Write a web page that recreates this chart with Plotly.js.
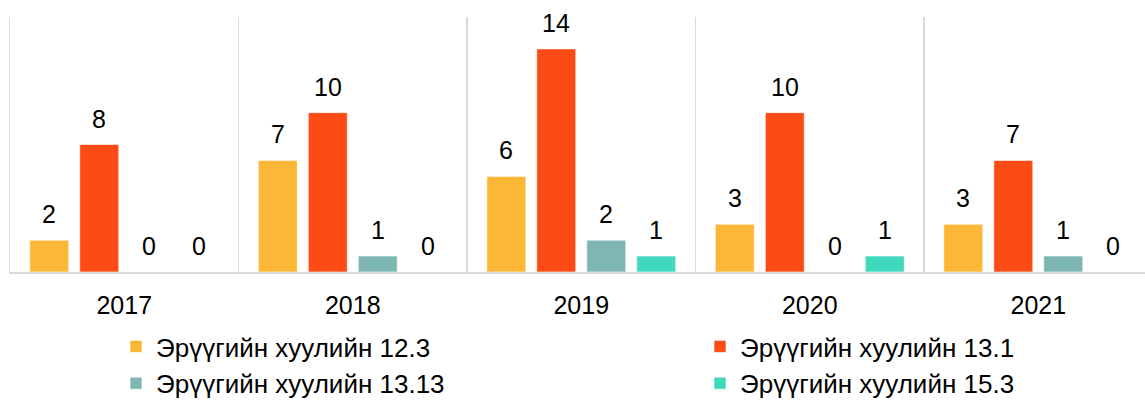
<!DOCTYPE html>
<html>
<head>
<meta charset="utf-8">
<script src="https://cdn.plot.ly/plotly-3.0.1.min.js"></script>
<style>html,body{margin:0;padding:0;background:#fff;}</style>
</head>
<body>
<div id="chart" style="width:1145px;height:401px;"></div>
<script>
const years = ["2017", "2018", "2019", "2020", "2021"];
const seriesNames = ["Эрүүгийн хуулийн 12.3", "Эрүүгийн хуулийн 13.1", "Эрүүгийн хуулийн 13.13", "Эрүүгийн хуулийн 15.3"];
const s123 = [2, 7, 6, 3, 3];
const s131 = [8, 10, 14, 10, 7];
const s1313 = [0, 1, 2, 0, 1];
const s153 = [0, 0, 1, 1, 0];
const colors = ["#FDB736", "#FD4B16", "#7EB6B1", "#40D9BE"];

const allSeries = [s123, s131, s1313, s153];
const legendFor = ["legend", "legend2", "legend", "legend2"];
const FONT = "Liberation Sans, Arial, sans-serif";
const FS = 25;

const traces = allSeries.map((vals, i) => ({
  type: "bar",
  name: seriesNames[i],
  x: years,
  y: vals,
  marker: {color: colors[i], line: {color: "rgba(255,255,255,0.6)", width: 1}},
  legend: legendFor[i],
  legendgroup: "g" + i,
  hoverinfo: "x+y+name"
}));

const annotations = [];
allSeries.forEach((vals, i) => {
  vals.forEach((v, j) => {
    annotations.push({
      x: j, y: v, xref: "x", yref: "y",
      text: String(v), showarrow: false,
      xanchor: "center", yanchor: "bottom",
      xshift: (i - 1.5) * 50, yshift: 10,
      font: {family: FONT, size: FS, color: "#000"}
    });
  });
});

const legendCommon = {
  orientation: "v", xref: "container", yref: "container",
  xanchor: "left", yanchor: "top",
  traceorder: "grouped", tracegroupgap: 0,
  font: {family: FONT, size: 26, color: "#000"},
  bgcolor: "rgba(0,0,0,0)"
};

const layout = {
  width: 1145, height: 401,
  margin: {l: 10, r: 0, t: 17, b: 129, autoexpand: false},
  paper_bgcolor: "#fff", plot_bgcolor: "#fff",
  barmode: "group",
  bargap: 0.125,
  bargroupgap: 0.22,
  font: {family: FONT, size: FS, color: "#000"},
  xaxis: {
    type: "category",
    range: [-0.5, 4.467],
    tickson: "boundaries",
    showgrid: true, gridcolor: "#D9D9D9", gridwidth: 1.5,
    showline: true, linecolor: "#D9D9D9", linewidth: 1.5,
    ticks: "", ticklabelstandoff: 10,
    tickfont: {family: FONT, size: FS, color: "#000"},
    fixedrange: true, automargin: false
  },
  yaxis: {
    range: [0, 16],
    showgrid: false, zeroline: false,
    showline: true, linecolor: "#D9D9D9", linewidth: 1.5,
    showticklabels: false, ticks: "",
    fixedrange: true, automargin: false
  },
  legend: Object.assign({}, legendCommon, {x: 116 / 1145, y: 1 - 323 / 401}),
  legend2: Object.assign({}, legendCommon, {x: 700 / 1145, y: 1 - 323 / 401}),
  annotations: annotations,
  showlegend: true
};

Plotly.newPlot("chart", traces, layout, {displayModeBar: false, staticPlot: true});
</script>
</body>
</html>
